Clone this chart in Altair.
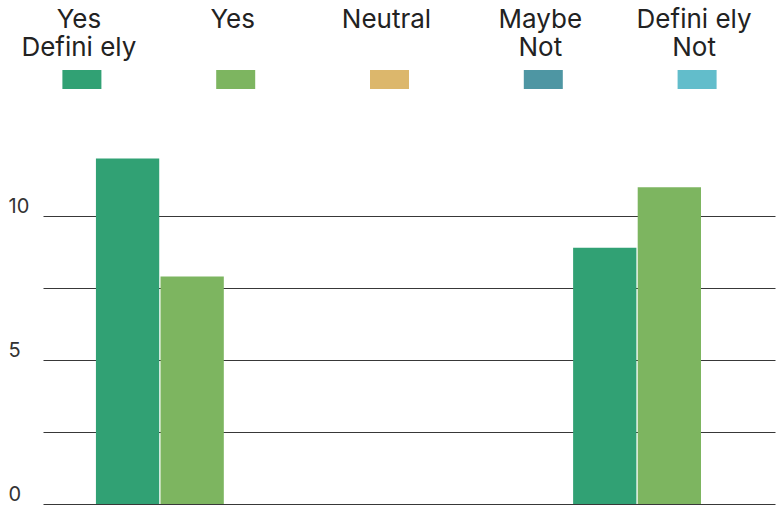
import altair as alt
import pandas as pd

# Data
groups = ["Group 1", "Group 1", "Group 2", "Group 2"]
answers = ["Yes Definitely", "Yes", "Yes Definitely", "Yes"]
counts = [12, 7.9, 8.9, 11]

categories = ["Yes Definitely", "Yes", "Neutral", "Maybe Not", "Definitely Not"]
legend_labels = ["Yes\nDefini ely", "Yes", "Neutral", "Maybe\nNot", "Defini ely\nNot"]
colors = ["#31a174", "#7db560", "#dcb76c", "#4e96a3", "#62bdcb"]
y_ticks = [0, 2.5, 5, 7.5, 10]

df = pd.DataFrame({"group": groups, "answer": answers, "count": counts})
leg_df = pd.DataFrame({"cat": categories, "label": legend_labels})

color_scale = alt.Scale(domain=categories, range=colors)

bars = alt.Chart(df).mark_bar().encode(
    x=alt.X("group:N", axis=None,
            scale=alt.Scale(paddingInner=0.732, paddingOuter=0.133, align=0.417)),
    xOffset=alt.XOffset("answer:N",
                        scale=alt.Scale(domain=["Yes Definitely", "Yes"], paddingInner=0.02)),
    y=alt.Y("count:Q",
            scale=alt.Scale(domain=[0, 17.5], nice=False, zero=True),
            axis=alt.Axis(values=y_ticks, grid=True, gridColor="#383838", gridWidth=1.2,
                          domain=False, ticks=False, labelAlign="left", labelPadding=35,
                          labelBaseline="alphabetic", labelOffset=-4,
                          labelExpr="datum.value % 5 == 0 ? datum.label : ''",
                          labelFont="Inter", labelFontSize=20, labelColor="#333333",
                          title=None)),
    color=alt.Color("answer:N", scale=color_scale, legend=None),
)

lx = alt.X("cat:N", sort=categories, axis=None,
           scale=alt.Scale(range=[-38, 731], paddingInner=0, paddingOuter=0))

leg_text = alt.Chart(leg_df).mark_text(
    lineBreak="\n", font="Inter", fontSize=26, lineHeight=28,
    baseline="alphabetic", align="center", color="#222222", dx=-3
).encode(x=lx, y=alt.value(28), text="label:N")

leg_swatch = alt.Chart(leg_df).mark_bar(width=39).encode(
    x=lx, y=alt.value(70), y2=alt.value(89),
    color=alt.Color("cat:N", scale=color_scale, legend=None),
)

chart = alt.layer(bars, leg_text, leg_swatch).resolve_scale(
    x="independent"
).properties(
    width=732, height=504,
    autosize=alt.AutoSizeParams(type="none"),
    padding={"left": 43, "top": 0, "right": 1, "bottom": 2},
).configure_view(stroke=None)

chart.save("out.html", embed_options={"renderer": "svg", "actions": False})
